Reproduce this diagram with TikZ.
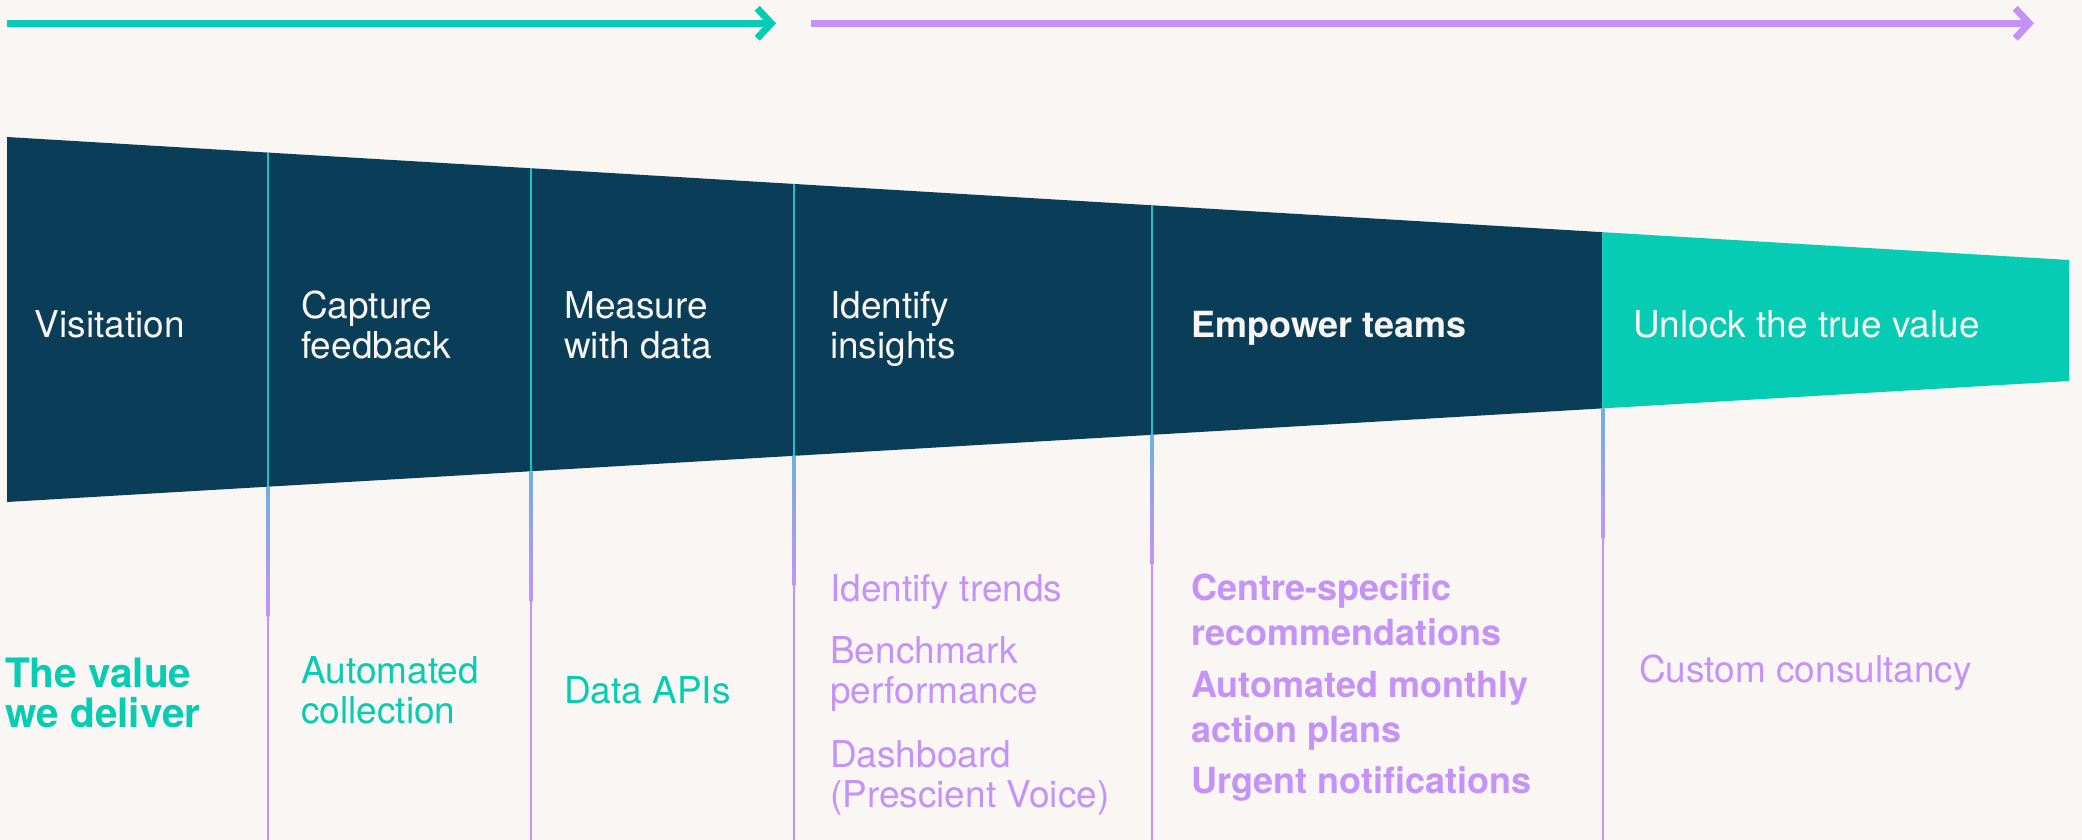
\documentclass[tikz,border=0pt]{standalone}
\usepackage{fontspec}
\setmainfont{TeX Gyre Heros}
\usetikzlibrary{arrows.meta,calc}

\definecolor{paper}{HTML}{FAF6F3}
\definecolor{navy}{HTML}{0A3E58}
\definecolor{brandteal}{HTML}{05CCB2}
\definecolor{brandpurple}{HTML}{C593F8}
\definecolor{divblue}{HTML}{6DB0E2}
\definecolor{divteal}{HTML}{22C2BE}
\definecolor{lighttext}{HTML}{F8F5F2}

% multi-line labels are placed by the baseline of their last line
\tikzset{
  flow/.style={line width=7pt, -{Straight Barb[length=14pt,width=30pt]}},
  lbl/.style={inner sep=0pt, anchor=base west, align=left,
    font=\fontsize{37}{40}\selectfont},
  bandlbl/.style={lbl, text=lighttext},
  tealtxt/.style={lbl, text=brandteal},
  purptxt/.style={lbl, text=brandpurple},
  purpbold/.style={lbl, text=brandpurple, font=\fontsize{36}{45}\selectfont\bfseries},
}

\begin{document}
\begin{tikzpicture}[x=1pt,y=-1pt]
  % canvas
  \fill[paper] (0,0) rectangle (2082,840);
  \useasboundingbox (0,0) rectangle (2082,840);

  % phase arrows along the top
  \coordinate (a1s) at (7,23.3);
  \coordinate (a1e) at (776,23.3);
  \coordinate (a2s) at (811,23.3);
  \coordinate (a2e) at (2034,23.3);
  \draw[flow, brandteal] (a1s) -- (a1e);
  \draw[flow, brandpurple] (a2s) -- (a2e);

  % tapering band
  \coordinate (TL) at (7,137);
  \coordinate (TR) at (2069,260);
  \coordinate (BL) at (7,502);
  \coordinate (BR) at (2069,381);
  \coordinate (TM) at ($(TL)!0.774!(TR)$);
  \coordinate (BM) at ($(BL)!0.774!(BR)$);
  \fill[navy] (TL) -- (TM) -- (BM) -- (BL) -- cycle;
  \fill[brandteal] (TM) -- (TR) -- (BR) -- (BM) -- cycle;

  % stage dividers
  \foreach \xx [count=\i] in {268,531,794,1152,1603} {
    \pgfmathsetmacro{\t}{(\xx-7)/2062}
    \coordinate (dt\i) at ($(TL)!\t!(TR)$);
    \coordinate (db\i) at ($(BL)!\t!(BR)$);
    \draw[divteal, line width=2.6pt] (dt\i) -- (db\i);
    \shade[top color=divblue, bottom color=brandpurple]
      ($(db\i)+(-1.3,0)$) rectangle ($(db\i)+(1.3,130)$);
    \fill[brandpurple] ($(db\i)+(-1.3,130)$) rectangle (\xx+1.3,840);
  }

  % stage names inside the band
  \node[bandlbl] (vis)  at (34.5,337) {Visitation};
  \node[bandlbl] (cap)  at (301,358) {Capture\\feedback};
  \node[bandlbl] (meas) at (564,358) {Measure\\with data};
  \node[bandlbl] (ins)  at (830,358) {Identify\\insights};
  \node[bandlbl, font=\fontsize{36}{40}\selectfont\bfseries] (emp) at (1191,337) {Empower teams};
  \node[bandlbl] (unl)  at (1633,337) {Unlock the true value};

  % value delivered at each stage
  \node[tealtxt, font=\fontsize{40.5}{40}\selectfont\bfseries] (val) at (5,727) {The value\\we deliver};
  \node[tealtxt] (auto) at (301,723) {Automated\\collection};
  \node[tealtxt] (api)  at (564,703) {Data APIs};
  \node[purptxt] (trd)  at (830,601) {Identify trends};
  \node[purptxt] (bch)  at (830,703) {Benchmark\\performance};
  \node[purptxt] (dsh)  at (830,807) {Dashboard\\(Prescient Voice)};
  \node[purpbold] (ctr) at (1191,645) {Centre-specific\\recommendations};
  \node[purpbold] (mon) at (1191,742) {Automated monthly\\action plans};
  \node[purpbold] (urg) at (1191,793) {Urgent notifications};
  \node[purptxt] (cns)  at (1639,682) {Custom consultancy};
\end{tikzpicture}
\end{document}
